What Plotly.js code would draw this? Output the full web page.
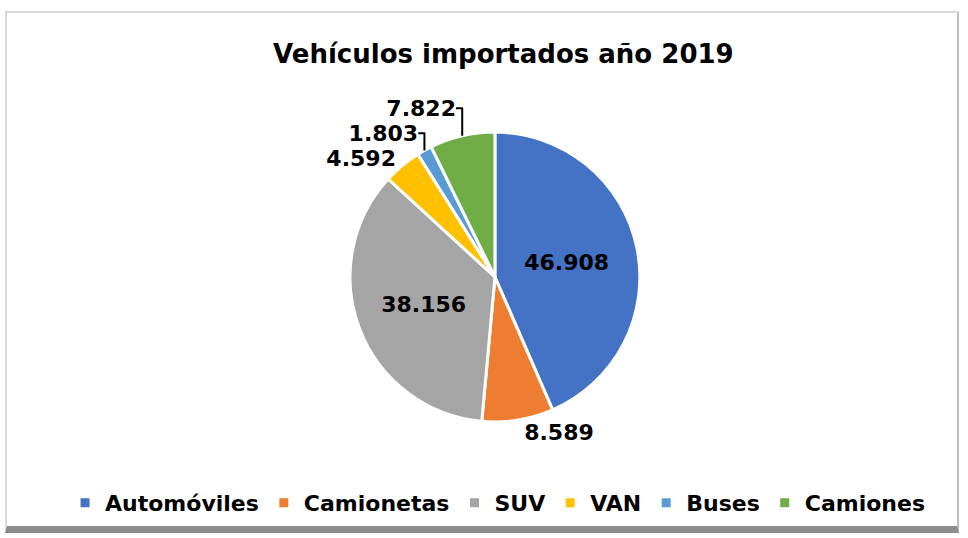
<!DOCTYPE html>
<html><head><meta charset="utf-8">
<script src="https://cdn.plot.ly/plotly-3.0.1.min.js"></script>
<style>
html,body{margin:0;padding:0;background:#fff;}
#frame{position:absolute;left:5px;top:11px;width:950px;height:513px;border-top:2px solid #d9d9d9;border-left:2px solid #d9d9d9;border-right:2px solid #bfbfbf;border-bottom:7px solid #8c8c8c;background:#fff;}
#chart{position:absolute;left:0;top:0;width:968px;height:538px;}
</style></head><body>
<div id="frame"></div>
<div id="chart"></div>
<script>
const categories = ["Automóviles","Camionetas","SUV","VAN","Buses","Camiones"];
const values = [46908, 8589, 38156, 4592, 1803, 7822];
const colors = ["#4472c4","#ed7d31","#a5a5a5","#ffc000","#5b9bd5","#70ad47"];
const positions = ["inside","outside","inside","outside","outside","outside"];
const F = "DejaVu Sans, Liberation Sans, sans-serif";
const trace = {
  type:"pie", labels:categories, values:values, sort:false, direction:"clockwise", rotation:0,
  marker:{colors:colors, line:{color:"#ffffff", width:3}},
  textinfo:"value", texttemplate:"%{value:,}", textposition:positions,
  textfont:{family:F, size:22, color:"#000", weight:"bold"},
  insidetextorientation:"horizontal",
  domain:{x:[0.3616,0.661], y:[0.2156,0.7546]},
  hoverinfo:"none"
};
const layout = {
  width:968, height:538, paper_bgcolor:"rgba(0,0,0,0)", plot_bgcolor:"rgba(0,0,0,0)",
  margin:{l:0,r:0,t:0,b:0}, separators:",.",
  title:{text:"<b>Vehículos importados año 2019</b>", x:0.52, xanchor:"center", y:0.9, yanchor:"middle", font:{family:F, size:26, color:"#000"}},
  showlegend:true,
  legend:{orientation:"h", x:0.514, xanchor:"center", y:0.065, yanchor:"middle", font:{family:F, size:22, color:"#000", weight:"bold"}, itemwidth:30, traceorder:"normal"}
};
Plotly.newPlot("chart",[trace],layout,{displayModeBar:false, staticPlot:true});
</script>
</body></html>
